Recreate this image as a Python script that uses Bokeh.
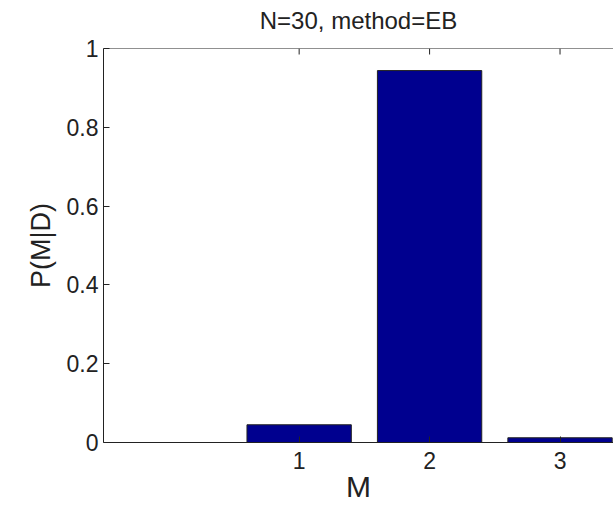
from bokeh.plotting import figure
from bokeh.models import LinearAxis, FixedTicker, Range1d, Span
from bokeh.embed import file_html
from bokeh.resources import INLINE

models = [1, 2, 3]
probs = [0.045, 0.944, 0.012]
y_ticks = [0, 0.2, 0.4, 0.6, 0.8, 1]
x_ticks = [1, 2, 3]
title_text = "N=30, method=EB"

FONT = "Liberation Sans"
INK = "#222222"

FRAME_LEFT, FRAME_TOP, FRAME_BOTTOM = 103, 48, 64
W, H = 613, 506
frame_h = H - FRAME_TOP - FRAME_BOTTOM

p = figure(width=W, height=H, output_backend="svg", toolbar_location=None,
           x_range=Range1d(-0.5, 3.41), y_range=Range1d(0, 1),
           x_axis_location=None, y_axis_location=None,
           min_border_left=FRAME_LEFT, min_border_right=0,
           min_border_top=FRAME_TOP, min_border_bottom=FRAME_BOTTOM)
p.outline_line_color = None
p.grid.visible = False
p.background_fill_color = "white"
p.border_fill_color = "white"

p.vbar(x=models, top=probs, width=0.8, bottom=0, fill_color="#00008F",
       line_color=INK, line_width=1)

# top box edge with inward ticks (MATLAB style box)
p.add_layout(Span(location=1, dimension="width", line_color=INK, line_width=1))
tick_len = 6 / frame_h
p.segment(x0=x_ticks, x1=x_ticks, y0=[1] * len(x_ticks), y1=[1 - tick_len] * len(x_ticks),
          line_color=INK, line_width=1)

def style(ax):
    ax.major_tick_in = 6
    ax.major_tick_out = 0
    ax.minor_tick_line_color = None
    ax.axis_line_color = INK
    ax.major_tick_line_color = INK
    ax.major_label_text_font = FONT
    ax.major_label_text_font_size = "23px"
    ax.major_label_text_color = INK
    ax.axis_label_text_font = FONT
    ax.axis_label_text_font_style = "normal"
    ax.axis_label_text_color = INK

# title, carried by a label-only axis above the frame
tax = LinearAxis(ticker=FixedTicker(ticks=[]), axis_label=title_text)
style(tax)
tax.axis_line_color = None
tax.major_tick_line_color = None
tax.axis_label_text_font_size = "24px"
tax.axis_label_standoff = 15
p.add_layout(tax, "above")

yax = LinearAxis(ticker=FixedTicker(ticks=y_ticks), axis_label="P(M|D)")
style(yax)
yax.axis_label_text_font_size = "27px"
yax.major_label_overrides = {0: "0", 1: "1"}
yax.major_label_standoff = 5
yax.axis_label_standoff = 8
p.add_layout(yax, "left")

xax = LinearAxis(ticker=FixedTicker(ticks=x_ticks), axis_label="M")
style(xax)
xax.axis_label_text_font_size = "30px"
xax.major_label_standoff = 9
xax.axis_label_standoff = -2
p.add_layout(xax, "below")

open("out.html", "w").write(file_html(p, INLINE))
